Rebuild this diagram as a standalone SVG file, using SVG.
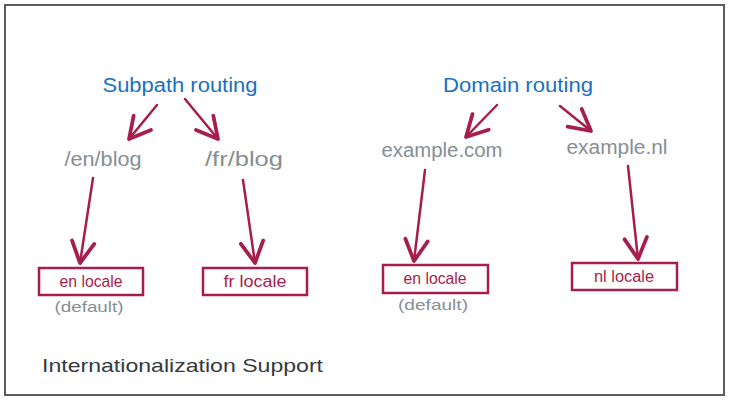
<svg xmlns="http://www.w3.org/2000/svg" width="730" height="401" viewBox="0 0 730 401">
<style>
.frame{fill:#fff;stroke:#5c5c66;stroke-width:2}
.head{font-family:"Liberation Sans",Arial,sans-serif;font-size:20px;fill:#1971c2}
.path{font-family:"Liberation Sans",Arial,sans-serif;font-size:20px;fill:#868e96}
.note{font-family:"Liberation Sans",Arial,sans-serif;font-size:15px;fill:#868e96}
.title{font-family:"Liberation Sans",Arial,sans-serif;font-size:19px;fill:#343a40}
.box rect{fill:#fff;stroke:#a61e4d;stroke-width:2.5}
.box text{font-family:"Liberation Sans",Arial,sans-serif;font-size:16px;fill:#a61e4d}
.conn path{fill:none;stroke:#a61e4d;stroke-width:2.5;stroke-linecap:round}
</style>
<defs>
<marker id="arr" markerUnits="userSpaceOnUse" markerWidth="30" markerHeight="30" viewBox="-16 -10 20 20" refX="0" refY="0" orient="auto">
<path d="M-14,-7.5 L0,0 L-14,7.5" fill="none" stroke="#a61e4d" stroke-width="2.5" stroke-linecap="round" stroke-linejoin="round"/>
</marker>
</defs>
<rect class="frame" x="5" y="5" width="719" height="390"/>
<g id="subpath"><text class="head" x="180" y="92" text-anchor="middle" textLength="155" lengthAdjust="spacingAndGlyphs">Subpath routing</text></g>
<g id="domain"><text class="head" x="518" y="92" text-anchor="middle" textLength="150" lengthAdjust="spacingAndGlyphs">Domain routing</text></g>
<g id="enblog"><text class="path" x="103" y="166" text-anchor="middle" textLength="77" lengthAdjust="spacingAndGlyphs">/en/blog</text></g>
<g id="frblog"><text class="path" x="244" y="166" text-anchor="middle" textLength="78" lengthAdjust="spacingAndGlyphs">/fr/blog</text></g>
<g id="excom"><text class="path" x="442" y="157" text-anchor="middle" textLength="121" lengthAdjust="spacingAndGlyphs">example.com</text></g>
<g id="exnl"><text class="path" x="617" y="154" text-anchor="middle" textLength="101" lengthAdjust="spacingAndGlyphs">example.nl</text></g>
<g id="en1" class="box"><rect x="39" y="268" width="104" height="27"/><text x="91" y="287" text-anchor="middle" textLength="63" lengthAdjust="spacingAndGlyphs">en locale</text></g>
<g id="fr1" class="box"><rect x="203" y="268" width="104" height="27"/><text x="255" y="287" text-anchor="middle" textLength="63" lengthAdjust="spacingAndGlyphs">fr locale</text></g>
<g id="en2" class="box"><rect x="383" y="265" width="105" height="28"/><text x="435" y="284" text-anchor="middle" textLength="63" lengthAdjust="spacingAndGlyphs">en locale</text></g>
<g id="nl1" class="box"><rect x="572" y="263" width="105" height="27"/><text x="624" y="282" text-anchor="middle" textLength="60" lengthAdjust="spacingAndGlyphs">nl locale</text></g>
<g id="def1"><text class="note" x="89" y="312" text-anchor="middle" textLength="69" lengthAdjust="spacingAndGlyphs">(default)</text></g>
<g id="def2"><text class="note" x="433" y="310" text-anchor="middle" textLength="70" lengthAdjust="spacingAndGlyphs">(default)</text></g>
<g id="title"><text class="title" x="42" y="372" textLength="281" lengthAdjust="spacingAndGlyphs">Internationalization Support</text></g>
<g id="connectors" class="conn">
<path d="M157,105 L129,139" marker-end="url(#arr)"/>
<path d="M185,99 L218,139" marker-end="url(#arr)"/>
<path d="M497,105 L466,137" marker-end="url(#arr)"/>
<path d="M560,106 L591,131" marker-end="url(#arr)"/>
<path d="M93,178 L80,263" marker-end="url(#arr)"/>
<path d="M243,180 L255,263" marker-end="url(#arr)"/>
<path d="M425,170 L414,261" marker-end="url(#arr)"/>
<path d="M628,166 L638,259" marker-end="url(#arr)"/>
</g>
</svg>
